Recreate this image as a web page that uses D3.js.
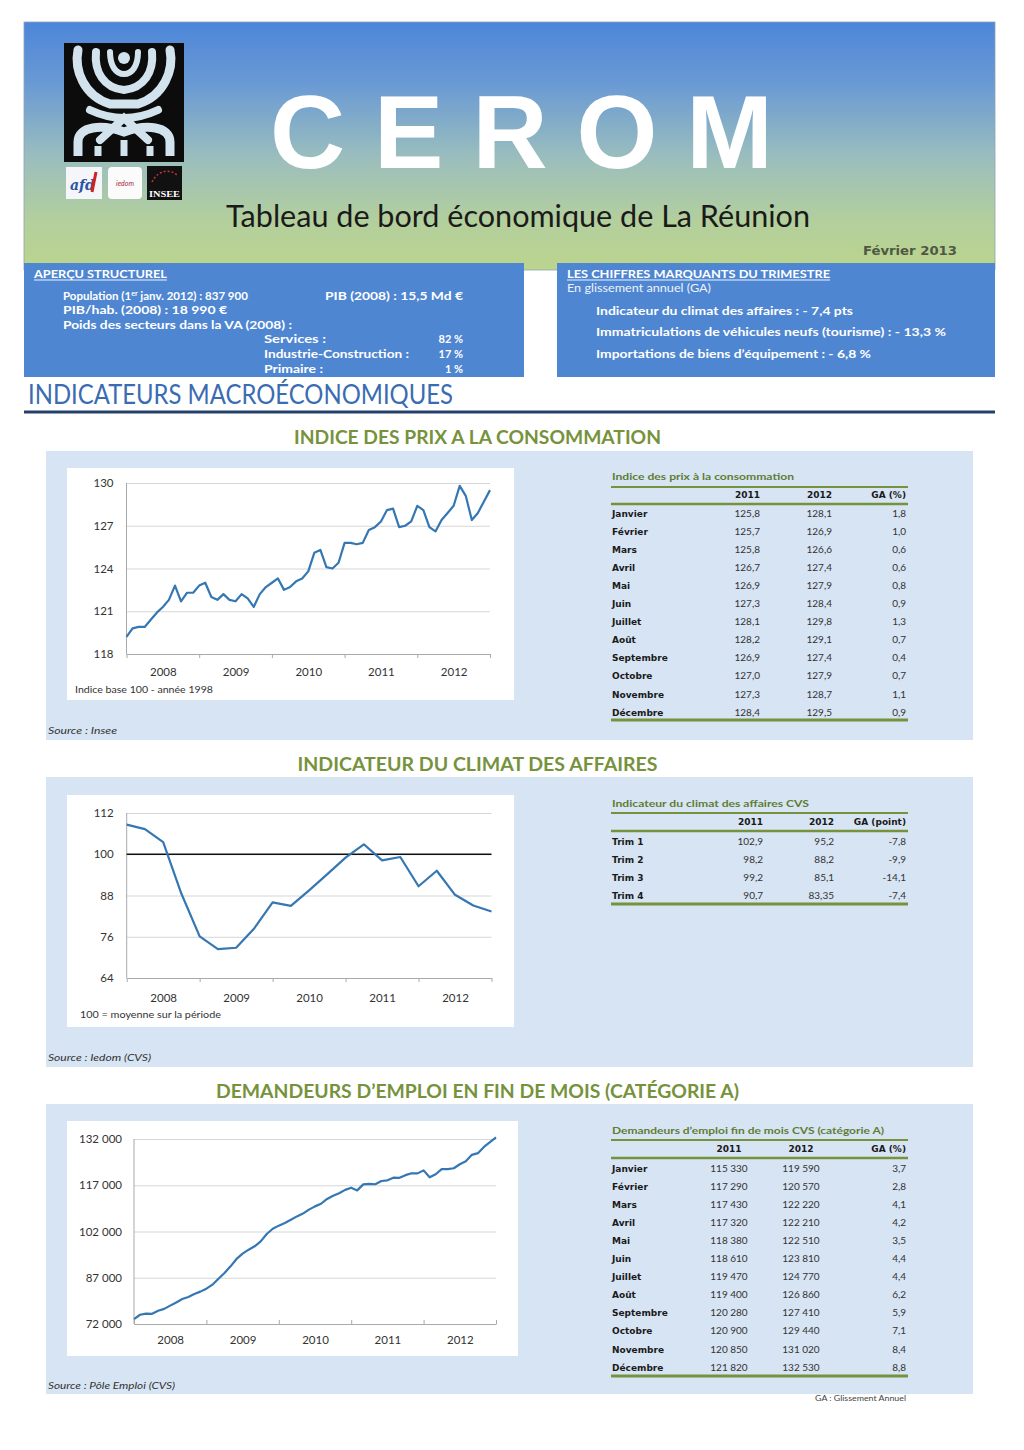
<!DOCTYPE html>
<html><head><meta charset="utf-8">
<script src="https://cdn.jsdelivr.net/npm/d3@7"></script>
<style>body{margin:0;background:#fff}svg{display:block}</style>
</head><body>
<script>
// ---------------- DATA ----------------
const years = ["2008","2009","2010","2011","2012"];
const monthNames = ["Janvier","Février","Mars","Avril","Mai","Juin","Juillet","Août","Septembre","Octobre","Novembre","Décembre"];
const quarterNames = ["Trim 1","Trim 2","Trim 3","Trim 4"];

// Consumer price index (monthly) : Dec 2007 .. Dec 2010
const cpiEarly = [119.2,
  119.8,119.9,119.9,120.4,120.9,121.3,121.8,122.8,121.7,122.3,122.3,122.8,
  123.0,122.0,121.8,122.2,121.8,121.7,122.2,121.9,121.3,122.2,122.7,123.0,
  123.3,122.5,122.7,123.1,123.3,123.8,125.1,125.3,124.1,124.0,124.4,125.8];
const cpi2011 = [125.8,125.7,125.8,126.7,126.9,127.3,128.1,128.2,126.9,127.0,127.3,128.4];
const cpi2012 = [128.1,126.9,126.6,127.4,127.9,128.4,129.8,129.1,127.4,127.9,128.7,129.5];
const cpiGA   = [1.8,1.0,0.6,0.6,0.8,0.9,1.3,0.7,0.4,0.7,1.1,0.9];
const cpiTicks = [118,121,124,127,130];

// Business climate (quarterly) : Q4 2007 .. Q4 2010
const climateEarly = [108.6, 107.3,103.5,88.5,76.1, 72.4,72.8,78.5,86.0, 85.0,89.5,94.2,99.0];
const climate2011 = [102.9,98.2,99.2,90.7];
const climate2012 = [95.2,88.2,85.1,83.35];
const climateGA   = [-7.8,-9.9,-14.1,-7.4];
const climateTicks = [64,76,88,100,112];
const climateRef = 100;

// Job seekers (monthly) : Dec 2007 .. Dec 2010
const jobsEarly = [73600,
  75000,75350,75300,76300,76900,77950,79000,80100,80750,81700,82500,83450,
  84750,86700,88550,90700,93100,94800,96100,97200,98800,101200,102900,103900,
  104750,105800,106900,107800,109100,110150,111000,112550,113600,114400,115500,116200];
const jobs2011 = [115330,117290,117430,117320,118380,118610,119470,119400,120280,120900,120850,121820];
const jobs2012 = [119590,120570,122220,122210,122510,123810,124770,126860,127410,129440,131020,132530];
const jobsGA   = [3.7,2.8,4.1,4.2,3.5,4.4,4.4,6.2,5.9,7.1,8.4,8.8];
const jobsTicks = [72000,87000,102000,117000,132000];

const cpiValues = cpiEarly.concat(cpi2011, cpi2012);
const climateValues = climateEarly.concat(climate2011, climate2012);
const jobsValues = jobsEarly.concat(jobs2011, jobs2012);

// ---------------- HELPERS ----------------
const fr = d3.formatLocale({decimal:",", thousands:" ", grouping:[3], currency:["","€"], minus:"-"});
const f1 = fr.format(".1f");
const fInt = fr.format(",d");
const fVar = v => (Math.abs(Math.round(v*10) - v*10) < 1e-6 ? fr.format(".1f") : fr.format(".2f"))(v);

const W = 1024, H = 1450;
const svg = d3.select("body").append("svg").attr("width", W).attr("height", H);
const defs = svg.append("defs");

function txt(parent, x, y, s, o = {}) {
  const t = parent.append("text").attr("x", x).attr("y", y).text(s)
    .attr("font-family", o.ff || "Lato").attr("font-size", o.fs || 11)
    .attr("font-weight", o.fw || "normal").attr("fill", o.fill || "#222")
    .attr("text-anchor", o.anchor || "start");
  if (o.italic) t.attr("font-style", "italic");
  if (o.w) {
    const n = t.node(); const l = n.getComputedTextLength();
    if (Math.abs(l - o.w) > 1) { t.attr("textLength", o.w).attr("lengthAdjust", "spacingAndGlyphs"); }
  }
  return t;
}

// ---------------- HEADER ----------------
const hg = defs.append("linearGradient").attr("id","hdr").attr("x1",0).attr("y1",0).attr("x2",0).attr("y2",1);
[[0,"#4d86d9"],[0.25,"#6a9ad4"],[0.55,"#9bbebd"],[0.8,"#b3cf9d"],[1,"#bbd48d"]]
  .forEach(([o,c]) => hg.append("stop").attr("offset",o).attr("stop-color",c));
svg.append("rect").attr("x",24).attr("y",22).attr("width",971).attr("height",248)
  .attr("fill","url(#hdr)").attr("stroke","#8fa3b3").attr("stroke-width",0.8);

// logo
const logo = svg.append("g");
logo.append("rect").attr("x",64).attr("y",43).attr("width",120).attr("height",119).attr("fill","#0c0c0c");
const lc = "#d3e3ee";
logo.append("path").attr("d","M78,50 C74,70 84,96 110,104 L138,104 C164,96 174,70 170,50")
  .attr("fill","none").attr("stroke",lc).attr("stroke-width",9).attr("stroke-linecap","round");
logo.append("path").attr("d","M96,52 C94,72 104,88 124,90 C144,88 154,72 152,52")
  .attr("fill","none").attr("stroke",lc).attr("stroke-width",8).attr("stroke-linecap","round");
logo.append("path").attr("d","M110,52 C110,66 116,74 124,74 C132,74 138,66 138,52")
  .attr("fill","none").attr("stroke",lc).attr("stroke-width",6).attr("stroke-linecap","round");
logo.append("circle").attr("cx",124).attr("cy",58).attr("r",6).attr("fill",lc);
logo.append("path").attr("d","M90,110 Q124,126 158,110 M100,140 L124,118 L148,140")
  .attr("fill","none").attr("stroke",lc).attr("stroke-width",8).attr("stroke-linecap","round");
logo.append("path").attr("d","M78,156 L78,142 C78,126 102,124 124,132 C146,124 170,126 170,142 L170,156")
  .attr("fill","none").attr("stroke",lc).attr("stroke-width",9);
logo.append("path").attr("d","M98,156 L98,146 M124,156 L124,140 M150,156 L150,146")
  .attr("fill","none").attr("stroke",lc).attr("stroke-width",7);
// partner logos
logo.append("rect").attr("x",66).attr("y",167).attr("width",36).attr("height",32).attr("fill","#f4f6fa");
txt(logo,70,190,"afd",{ff:"DejaVu Serif",fs:14,fw:"bold",fill:"#2a55a4",italic:true});
logo.append("path").attr("d","M96,172 L92,192").attr("stroke","#d42020").attr("stroke-width",3);
logo.append("rect").attr("x",108).attr("y",167).attr("width",34).attr("height",32).attr("rx",4).attr("fill","#fbfbfb");
txt(logo,125,186,"iedom",{fs:7,fill:"#b02a3a",anchor:"middle",italic:true});
logo.append("rect").attr("x",147).attr("y",166).attr("width",35).attr("height",34).attr("fill","#111");
txt(logo,164.5,197,"INSEE",{ff:"Liberation Serif",fs:9,fw:"bold",fill:"#fff",anchor:"middle",w:31});
logo.append("path").attr("d","M152,182 C158,170 170,168 178,176").attr("fill","none").attr("stroke","#c33").attr("stroke-width",1.5).attr("stroke-dasharray","2,2");

// title
txt(svg,270,168,"CEROM",{ff:"Liberation Sans",fs:104,fw:"bold",fill:"#ffffff"})
  .attr("textLength",503).attr("lengthAdjust","spacing");
txt(svg,226,227,"Tableau de bord économique de La Réunion",{fs:31,fill:"#1a1a1a",w:584});
txt(svg,863,255,"Février 2013",{ff:"DejaVu Sans",fs:12.5,fw:"bold",fill:"#4f5843",w:94});

// ---------------- BLUE BOXES ----------------
svg.append("rect").attr("x",24).attr("y",263).attr("width",500).attr("height",114).attr("fill","#4f86d2");
svg.append("rect").attr("x",557).attr("y",263).attr("width",438).attr("height",114).attr("fill","#4f86d2");
const wb = {fw:"bold",fill:"#ffffff",fs:11};
txt(svg,34,278,"APERÇU STRUCTUREL",{...wb,fs:10.5,w:133});
svg.append("line").attr("x1",34).attr("x2",167).attr("y1",280).attr("y2",280).attr("stroke","#fff").attr("stroke-width",0.9);
const pop = svg.append("text").attr("x",63).attr("y",300).attr("font-family","Lato").attr("font-size",11.5)
  .attr("font-weight","bold").attr("fill","#fff");
pop.append("tspan").text("Population (1");
pop.append("tspan").text("er").attr("font-size",7).attr("dy",-4);
pop.append("tspan").text(" janv. 2012) : 837 900").attr("dy",4);
txt(svg,325,300,"PIB (2008) : 15,5 Md €",{...wb,w:138});
txt(svg,63,314,"PIB/hab. (2008) : 18 990 €",{...wb,w:164});
txt(svg,63,329,"Poids des secteurs dans la VA (2008) :",{...wb,w:229});
txt(svg,264,343,"Services  :",{...wb,w:62});
txt(svg,463,343,"82 %",{...wb,anchor:"end"});
txt(svg,264,358,"Industrie-Construction :",{...wb,w:145});
txt(svg,463,358,"17 %",{...wb,anchor:"end"});
txt(svg,264,373,"Primaire :",{...wb,w:59});
txt(svg,463,373,"1 %",{...wb,anchor:"end"});

txt(svg,567,278,"LES CHIFFRES MARQUANTS DU TRIMESTRE",{...wb,fs:10.5,w:263});
svg.append("line").attr("x1",567).attr("x2",830).attr("y1",280).attr("y2",280).attr("stroke","#fff").attr("stroke-width",0.9);
txt(svg,567,292,"En glissement annuel  (GA)",{fs:11,fill:"#eef3fb",w:144});
txt(svg,596,315,"Indicateur du climat des affaires : - 7,4 pts",{...wb,w:257});
txt(svg,596,336,"Immatriculations de véhicules neufs (tourisme) : - 13,3 %",{...wb,w:350});
txt(svg,596,358,"Importations de biens d’équipement : - 6,8 %",{...wb,w:275});

// ---------------- SECTION HEADER ----------------
txt(svg,28,404,"INDICATEURS MACROÉCONOMIQUES",{fs:27,fill:"#3a6cb2",w:425});
svg.append("line").attr("x1",24).attr("x2",995).attr("y1",412).attr("y2",412).attr("stroke","#243f6a").attr("stroke-width",3);

// ---------------- CHART + TABLE BUILDERS ----------------
const green = "#76923c";
function panel(y0, h, title, ty, tw) {
  svg.append("rect").attr("x",46).attr("y",y0).attr("width",927).attr("height",h).attr("fill","#d7e4f4");
  txt(svg,477.5,ty,title,{fs:18,fw:"bold",fill:green,anchor:"middle",w:tw});
}

function chart(c) {
  const g = svg.append("g");
  g.append("rect").attr("x",c.box[0]).attr("y",c.box[1]).attr("width",c.box[2]).attr("height",c.box[3]).attr("fill","#fff");
  const x = d3.scaleLinear().domain([0, c.values.length - 1]).range([c.x0, c.x1]);
  const y = d3.scaleLinear().domain([c.ticks[0], c.ticks[c.ticks.length-1]]).range([c.yBot, c.yTop]);
  const ya = g.append("g").attr("transform",`translate(${c.x0},0)`)
    .call(d3.axisLeft(y).tickValues(c.ticks).tickSize(-(c.x1 - c.x0)).tickPadding(c.pad).tickFormat(c.fmt));
  ya.select(".domain").remove();
  ya.selectAll(".tick line").attr("stroke","#d6d6d6").attr("stroke-width",1);
  ya.selectAll(".tick text").attr("font-family","Lato").attr("font-size",11.5).attr("fill","#333");
  g.append("line").attr("x1",c.x0).attr("x2",c.x0).attr("y1",c.yTop).attr("y2",c.yBot).attr("stroke","#a9a9a9");
  const bounds = d3.range(years.length + 1).map(i => i * c.per);
  const xa = g.append("g").attr("transform",`translate(0,${c.yBot})`)
    .call(d3.axisBottom(x).tickValues(bounds).tickSize(c.tickLen).tickSizeOuter(0).tickFormat(""));
  xa.select(".domain").attr("stroke","#a9a9a9");
  xa.selectAll(".tick line").attr("stroke","#a9a9a9");
  const xl = g.append("g").attr("transform",`translate(0,${c.yBot})`)
    .call(d3.axisBottom(x).tickValues(years.map((d,i) => i * c.per + c.per / 2)).tickSize(0).tickPadding(c.labPad)
      .tickFormat((d,i) => years[i]));
  xl.select(".domain").remove();
  xl.selectAll(".tick text").attr("font-family","Lato").attr("font-size",11.5).attr("fill","#333");
  if (c.ref !== undefined) {
    g.append("line").attr("x1",c.x0).attr("x2",c.x1).attr("y1",y(c.ref)).attr("y2",y(c.ref))
      .attr("stroke","#111").attr("stroke-width",1.5);
  }
  g.append("path").datum(c.values)
    .attr("d", d3.line().x((d,i) => x(i)).y(d => y(d)))
    .attr("fill","none").attr("stroke","#3577b3").attr("stroke-width",2.2).attr("stroke-linejoin","round");
  if (c.note) txt(g, c.note[0], c.note[1], c.note[2], {fs:9.5, fill:"#333", w:c.note[3]});
}

function table(t) {
  const g = svg.append("g");
  txt(g, 612, t.titleY, t.title, {fs:10, fw:"bold", fill:"#5e7d33", w:t.titleW});
  g.append("line").attr("x1",611).attr("x2",908).attr("y1",t.topY).attr("y2",t.topY).attr("stroke",green).attr("stroke-width",2);
  g.append("line").attr("x1",611).attr("x2",908).attr("y1",t.headLineY).attr("y2",t.headLineY).attr("stroke",green).attr("stroke-width",2.5);
  g.append("line").attr("x1",611).attr("x2",908).attr("y1",t.bottomY).attr("y2",t.bottomY).attr("stroke",green).attr("stroke-width",3);
  t.headers.forEach((h,i) => txt(g, t.cols[i].x, t.headY, h, {ff:"DejaVu Sans", fs:9, fw:"bold", fill:"#1a1a1a", anchor:t.cols[i].a}));
  t.labels.forEach((lab,r) => {
    const yy = t.row0 + r * t.step;
    txt(g, 612, yy, lab, {ff:"DejaVu Sans", fs:9, fw:"bold", fill:"#1a1a1a"});
    t.data.forEach((arr,ci) => txt(g, t.cols[ci].x, yy, t.fmts[ci](arr[r]), {fs:10, fill:"#333", anchor:t.cols[ci].a}));
  });
}

// ---------------- SECTION 1 : CPI ----------------
panel(451, 289, "INDICE DES PRIX A LA CONSOMMATION", 444, 367);
chart({box:[67,468,447,232], values:cpiValues, ticks:cpiTicks, fmt:d3.format("d"),
  x0:126.5, x1:490, yTop:483, yBot:654, pad:13, per:12, tickLen:4, labPad:14,
  note:[75,693,"Indice base 100 - année 1998",138]});
table({title:"Indice des prix à la consommation", titleW:182, titleY:480, topY:487, headY:498, headLineY:504, bottomY:720,
  row0:516.5, step:18.1, labels:monthNames, headers:["2011","2012","GA (%)"],
  cols:[{x:760,a:"end"},{x:832,a:"end"},{x:906,a:"end"}],
  data:[cpi2011, cpi2012, cpiGA], fmts:[f1,f1,f1]});
txt(svg,48,734,"Source : Insee",{fs:9.5,italic:true,fill:"#333",w:69});

// ---------------- SECTION 2 : CLIMATE ----------------
panel(777, 290, "INDICATEUR DU CLIMAT DES AFFAIRES", 771, 360);
chart({box:[67,795,447,232], values:climateValues, ticks:climateTicks, fmt:d3.format("d"), ref:climateRef,
  x0:126.7, x1:491.5, yTop:813, yBot:978, pad:13, per:4, tickLen:4, labPad:16,
  note:[80,1018,"100 = moyenne sur la période",141]});
table({title:"Indicateur du climat des affaires CVS", titleW:197, titleY:807, topY:813, headY:825, headLineY:831, bottomY:904,
  row0:844.5, step:18, labels:quarterNames, headers:["2011","2012","GA (point)"],
  cols:[{x:763,a:"end"},{x:834,a:"end"},{x:906,a:"end"}],
  data:[climate2011, climate2012, climateGA], fmts:[fVar,fVar,fVar]});
txt(svg,48,1061,"Source : Iedom (CVS)",{fs:9.5,italic:true,fill:"#333",w:103});

// ---------------- SECTION 3 : JOB SEEKERS ----------------
panel(1104, 290, "DEMANDEURS D’EMPLOI EN FIN DE MOIS (CATÉGORIE A)", 1098, 523);
chart({box:[67,1121,451,235], values:jobsValues, ticks:jobsTicks, fmt:fInt,
  x0:134, x1:496, yTop:1139, yBot:1324, pad:12, per:12, tickLen:-4, labPad:12});
table({title:"Demandeurs d’emploi fin de mois CVS (catégorie A)", titleW:272, titleY:1134, topY:1140, headY:1152, headLineY:1158, bottomY:1376,
  row0:1171.5, step:18.1, labels:monthNames, headers:["2011","2012","GA (%)"],
  cols:[{x:729,a:"middle"},{x:801,a:"middle"},{x:906,a:"end"}],
  data:[jobs2011, jobs2012, jobsGA], fmts:[fInt,fInt,f1]});
txt(svg,48,1389,"Source : Pôle Emploi (CVS)",{fs:9.5,italic:true,fill:"#333",w:127});
txt(svg,906,1401,"GA : Glissement Annuel",{fs:7.5,fill:"#444",anchor:"end",w:91});
</script>
</body></html>
